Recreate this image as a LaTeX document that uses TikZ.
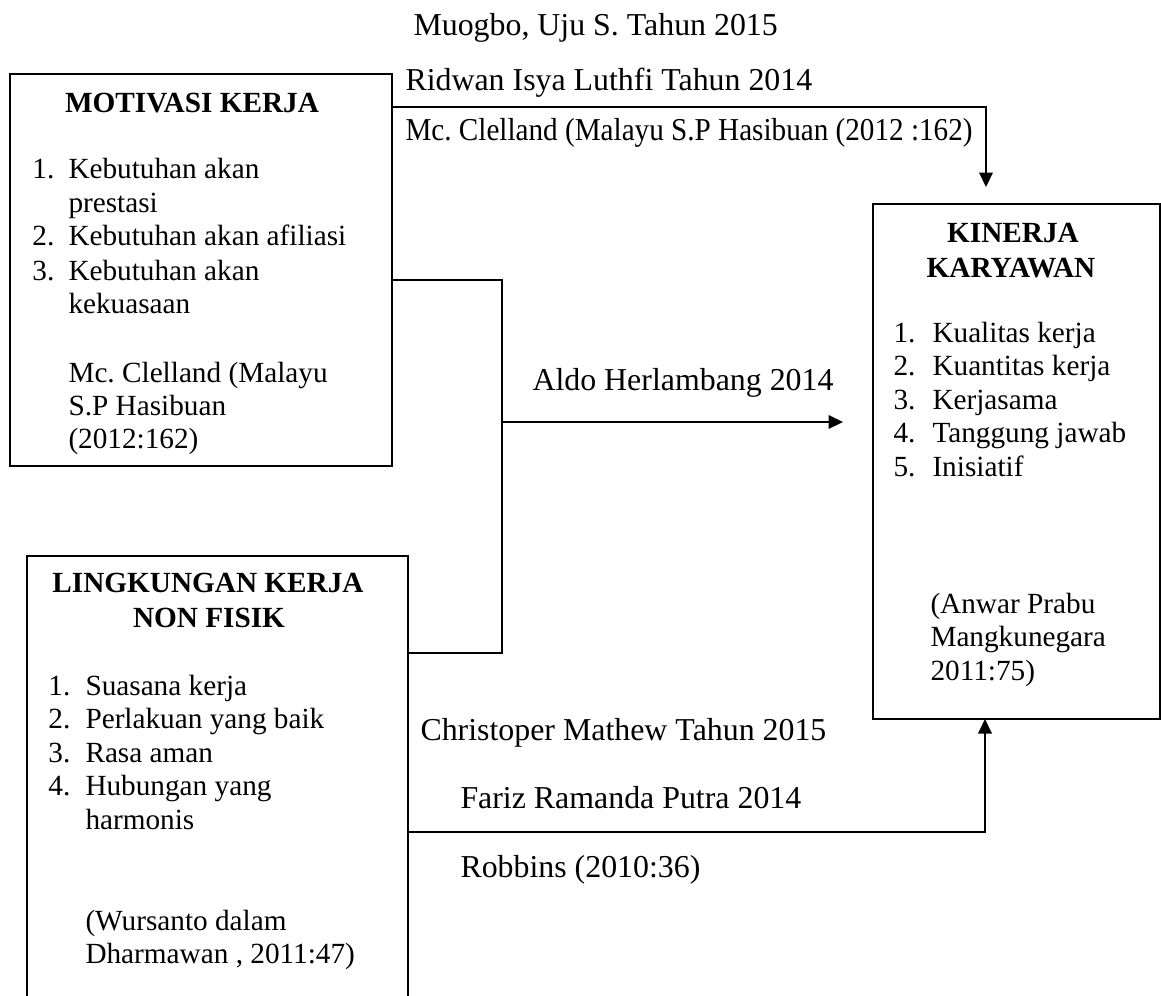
\documentclass[tikz,border=0pt]{standalone}
\usepackage{fontspec}
\usepackage{graphicx}
\setmainfont{Liberation Serif}
\usetikzlibrary{arrows.meta,calc}
\frenchspacing
\begin{document}
\begin{tikzpicture}[x=0.4pt,y=-0.4pt,
  every node/.style={font=\fontsize{11.7}{13.4}\selectfont},
  box/.style={draw,line width=0.8pt,rectangle,inner sep=0pt,anchor=north west},
  txt/.style={anchor=base west,inner sep=0pt},
  lab/.style={anchor=base west,inner sep=0pt,font=\fontsize{12.75}{14}\selectfont},
  hd/.style={anchor=base,inner sep=0pt,font=\fontsize{11.7}{13.4}\selectfont\bfseries},
  conn/.style={line width=0.8pt},
  arrow/.style={conn,-{Triangle[length=5.8pt,width=5.4pt]}}]
\path[use as bounding box] (0,0) rectangle (1161,995);
\clip (0,0) rectangle (1161,995);

% boxes
\node[box,minimum width=152.8pt,minimum height=156.8pt] (mot) at (9,73) {};
\node[box,minimum width=152.4pt,minimum height=184pt] (lin) at (26,555) {};
\node[box,minimum width=114.8pt,minimum height=206pt] (kin) at (872,203) {};

% MOTIVASI KERJA
\node[hd] (motH) at (192,112) {MOTIVASI KERJA};
\node[txt] (motN1) at (32,178) {1.};
\node[txt] (motA1) at (68,178) {Kebutuhan akan};
\node[txt] (motA1b) at (68,212) {prestasi};
\node[txt] (motN2) at (32,245) {2.};
\node[txt] (motA2) at (68,245) {Kebutuhan akan afiliasi};
\node[txt] (motN3) at (32,280) {3.};
\node[txt] (motA3) at (68,280) {Kebutuhan akan};
\node[txt] (motA3b) at (68,313) {kekuasaan};
\node[txt] (motC1) at (68,382) {Mc. Clelland (Malayu};
\node[txt] (motC2) at (68,415) {S.P Hasibuan};
\node[txt] (motC3) at (68,448) {(2012:162)};

% LINGKUNGAN KERJA NON FISIK
\node[hd] (linH1) at (208,592) {LINGKUNGAN KERJA};
\node[hd] (linH2) at (209,627) {NON FISIK};
\node[txt] (linN1) at (48,695) {1.};
\node[txt] (linA1) at (85,695) {Suasana kerja};
\node[txt] (linN2) at (48,728.5) {2.};
\node[txt] (linA2) at (85,728.5) {Perlakuan yang baik};
\node[txt] (linN3) at (48,762) {3.};
\node[txt] (linA3) at (85,762) {Rasa aman};
\node[txt] (linN4) at (48,795.5) {4.};
\node[txt] (linA4) at (85,795.5) {Hubungan yang};
\node[txt] (linA4b) at (85,829) {harmonis};
\node[txt] (linC1) at (85,930) {(Wursanto dalam};
\node[txt] (linC2) at (85,963.5) {Dharmawan , 2011:47)};

% KINERJA KARYAWAN
\node[hd] (kinH1) at (1013,242) {KINERJA};
\node[hd] (kinH2) at (1011,277) {KARYAWAN};
\node[txt] (kinN1) at (893,342) {1.};
\node[txt] (kinA1) at (932,342) {Kualitas kerja};
\node[txt] (kinN2) at (893,375.5) {2.};
\node[txt] (kinA2) at (932,375.5) {Kuantitas kerja};
\node[txt] (kinN3) at (893,409) {3.};
\node[txt] (kinA3) at (932,409) {Kerjasama};
\node[txt] (kinN4) at (893,442.5) {4.};
\node[txt] (kinA4) at (932,442.5) {Tanggung jawab};
\node[txt] (kinN5) at (893,476) {5.};
\node[txt] (kinA5) at (932,476) {Inisiatif};
\node[txt] (kinC1) at (930,613) {(Anwar Prabu};
\node[txt] (kinC2) at (930,646.5) {Mangkunegara};
\node[txt] (kinC3) at (930,680) {2011:75)};

% connector labels
\node[lab] (lMuo) at (413,35) {Muogbo, Uju S. Tahun 2015};
\node[lab] (lRid) at (405,90) {Ridwan Isya Luthfi Tahun 2014};
\node[lab] (lMcc) at (405,140) {\scalebox{0.915}[1]{Mc. Clelland (Malayu S.P Hasibuan (2012 :162)}};
\node[lab] (lAld) at (532,390) {Aldo Herlambang 2014};
\node[lab] (lChr) at (420,740) {Christoper Mathew Tahun 2015};
\node[lab] (lFar) at (460,808) {Fariz Ramanda Putra 2014};
\node[lab] (lRob) at (460,877) {Robbins (2010:36)};

% connectors
\coordinate (junc) at (502,422);
\coordinate (aldoTip) at (843,422);
\coordinate (topTip) at (986,187);
\coordinate (botTip) at (985,719);
\draw[arrow] ($(mot.north east)+(0,34)$) -| (topTip);
\draw[conn] ($(mot.north east)+(0,207)$) -| (junc) |- ($(lin.north east)+(0,98)$);
\draw[arrow] (junc) -- (aldoTip);
\draw[arrow] ($(lin.north east)+(0,277)$) -| (botTip);
\end{tikzpicture}
\end{document}
